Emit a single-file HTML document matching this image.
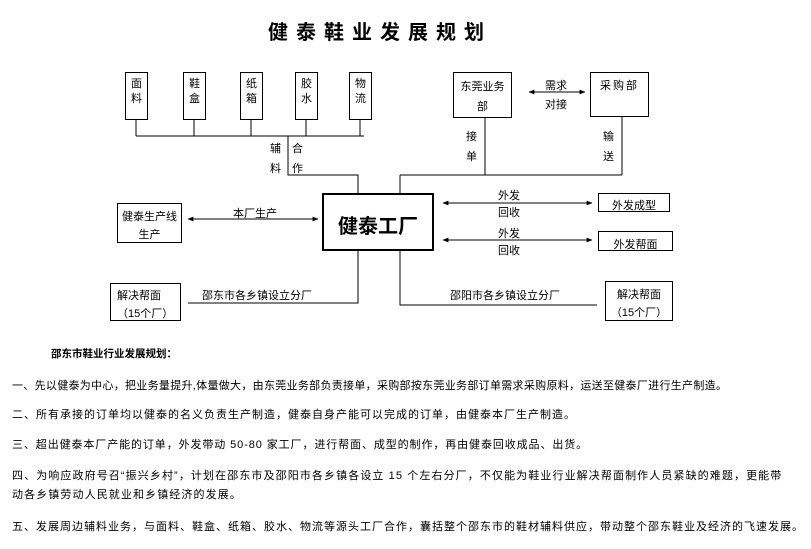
<!DOCTYPE html>
<html><head><meta charset="utf-8"><style>
body{margin:0;width:811px;height:549px;background:#fff;position:relative;overflow:hidden;font-family:"Liberation Sans","Noto Sans CJK SC",sans-serif;color:#000}
.a{position:absolute;white-space:nowrap;line-height:1}
.b{position:absolute;border:1px solid #000;box-sizing:border-box;background:#fff}
.s{font-size:11px}
.t{font-size:11px}
</style></head><body>
<div class="a" style="left:268px;top:23px;font-size:20px;font-weight:bold;letter-spacing:8px">健泰鞋业发展规划</div>
<svg width="811" height="549" style="position:absolute;left:0;top:0">
<defs><marker id="m" viewBox="0 0 10 10" refX="9" refY="5" markerWidth="6" markerHeight="6" orient="auto-start-reverse"><path d="M0,1L10,5L0,9z"/></marker></defs>
<g stroke="#000" stroke-width="1" fill="none">
<path d="M136 120V136M194 120V136M251 120V136M306 120V136M360 120V136M136 136H364M288 136V175H358V193"/>
<path d="M485 118V175M622 117V175M400 175H622M400 175V193"/>
<path d="M358 250V303H188M400 250V305H597"/>
<line x1="529" y1="92" x2="585" y2="92" marker-start="url(#m)" marker-end="url(#m)"/>
<line x1="188" y1="219" x2="318" y2="219" marker-start="url(#m)" marker-end="url(#m)"/>
<line x1="443" y1="203" x2="592" y2="203" marker-start="url(#m)" marker-end="url(#m)"/>
<line x1="443" y1="240" x2="592" y2="240" marker-start="url(#m)" marker-end="url(#m)"/>
</g></svg>
<div class="b s" style="left:125px;top:72px;width:23px;height:48px;text-align:center;padding-top:4px;line-height:15px">面<br>料</div>
<div class="b s" style="left:183px;top:72px;width:23px;height:48px;text-align:center;padding-top:4px;line-height:15px">鞋<br>盒</div>
<div class="b s" style="left:240px;top:72px;width:23px;height:48px;text-align:center;padding-top:4px;line-height:15px">纸<br>箱</div>
<div class="b s" style="left:295px;top:72px;width:23px;height:48px;text-align:center;padding-top:4px;line-height:15px">胶<br>水</div>
<div class="b s" style="left:349px;top:72px;width:23px;height:48px;text-align:center;padding-top:4px;line-height:15px">物<br>流</div>
<div class="a s" style="left:270px;top:139px;line-height:20px">辅<br>料</div>
<div class="a s" style="left:292px;top:139px;line-height:20px">合<br>作</div>
<div class="b s" style="left:453px;top:72px;width:59px;height:46px;text-align:center;padding-top:4px;line-height:20px">东莞业务<br>部</div>
<div class="b s" style="left:590px;top:72px;width:59px;height:45px;text-align:center;padding-top:4px;letter-spacing:2px">采购部</div>
<div class="a s" style="left:545px;top:77px;line-height:19px">需求<br>对接</div>
<div class="a s" style="left:466px;top:127px;line-height:20px">接<br>单</div>
<div class="a s" style="left:603px;top:127px;line-height:20px">输<br>送</div>
<div class="b" style="left:322px;top:193px;width:112px;height:58px;border-width:2px;font-size:20px;font-weight:bold;text-align:center;padding-top:15px">健泰工厂</div>
<div class="b s" style="left:117px;top:203px;width:65px;height:40px;text-align:center;padding-top:4px;line-height:18px">健泰生产线<br>生产</div>
<div class="a s" style="left:233px;top:209px">本厂生产</div>
<div class="a s" style="left:498px;top:188px;line-height:17px;text-align:center">外发<br>回收</div>
<div class="a s" style="left:498px;top:226px;line-height:17px;text-align:center">外发<br>回收</div>
<div class="b s" style="left:598px;top:193px;width:72px;height:19px;text-align:center;padding-top:3px">外发成型</div>
<div class="b s" style="left:598px;top:231px;width:75px;height:20px;text-align:center;padding-top:4px">外发帮面</div>
<div class="b s" style="left:110px;top:283px;width:71px;height:38px;padding:3px 0 0 6px;line-height:18px">解决帮面<br>（15个厂）</div>
<div class="b s" style="left:605px;top:281px;width:68px;height:40px;text-align:center;padding-top:4px;line-height:18px">解决帮面<br>（15个厂）</div>
<div class="a t" style="left:202px;top:291px">邵东市各乡镇设立分厂</div>
<div class="a t" style="left:450px;top:291px">邵阳市各乡镇设立分厂</div>
<div class="a" style="left:51px;top:349px;font-size:10.5px;font-weight:bold">邵东市鞋业行业发展规划：</div>
<div class="a t" style="left:12px;top:381px;letter-spacing:0.3px">一、先以健泰为中心，把业务量提升,体量做大，由东莞业务部负责接单，采购部按东莞业务部订单需求采购原料，运送至健泰厂进行生产制造。</div>
<div class="a t" style="left:12px;top:410px;letter-spacing:1px">二、所有承接的订单均以健泰的名义负责生产制造，健泰自身产能可以完成的订单，由健泰本厂生产制造。</div>
<div class="a t" style="left:12px;top:440px;letter-spacing:0.9px">三、超出健泰本厂产能的订单，外发带动 50-80 家工厂，进行帮面、成型的制作，再由健泰回收成品、出货。</div>
<div class="a t" style="left:12px;top:471px;letter-spacing:1.1px">四、为响应政府号召“振兴乡村”，计划在邵东市及邵阳市各乡镇各设立 15 个左右分厂，不仅能为鞋业行业解决帮面制作人员紧缺的难题，更能带</div>
<div class="a t" style="left:12px;top:490px;letter-spacing:1.1px">动各乡镇劳动人民就业和乡镇经济的发展。</div>
<div class="a t" style="left:12px;top:522px;letter-spacing:1px">五、发展周边辅料业务，与面料、鞋盒、纸箱、胶水、物流等源头工厂合作，囊括整个邵东市的鞋材辅料供应，带动整个邵东鞋业及经济的飞速发展。</div>
</body></html>
